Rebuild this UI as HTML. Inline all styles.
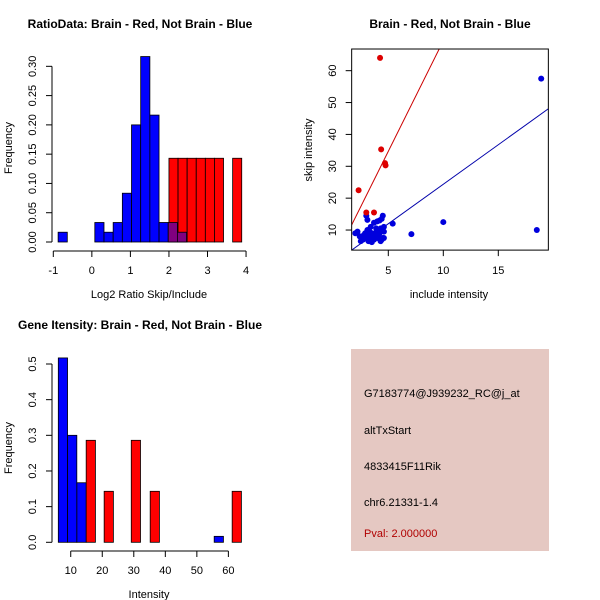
<!DOCTYPE html>
<html><head><meta charset="utf-8"><style>
body{margin:0;background:#fff}
svg{display:block;font-family:"Liberation Sans",sans-serif}
</style></head><body>
<svg id="c" width="600" height="600" viewBox="0 0 600 600">
<rect width="600" height="600" fill="#fff"/>
<g id="p1"></g>
<g id="p2"></g>
<g id="p3"></g>
<g>
<rect x="351" y="349" width="198" height="202" fill="#e5c8c2"/>
<text x="364" y="397" font-size="11" fill="#000">G7183774@J939232_RC@j_at</text>
<text x="364" y="434" font-size="11" fill="#000">altTxStart</text>
<text x="364" y="470" font-size="11" fill="#000">4833415F11Rik</text>
<text x="364" y="506" font-size="11" fill="#000">chr6.21331-1.4</text>
<text x="364" y="537" font-size="11" fill="#b00000">Pval: 2.000000</text>
</g>
</svg>
<script>
// ---- Plot 1 data ----
const ratioBlueStart = -0.875, ratioBlueWidth = 0.238;
const ratioBlueFreq = [0.0167,0,0,0,0.0333,0.0167,0.0333,0.0833,0.2,0.3167,0.2167,0.0333,0.0333,0.0167];
const ratioRedStart = 2.0, ratioRedWidth = 0.236;
const ratioRedFreq = [0.143,0.143,0.143,0.143,0.143,0.143,0,0.143];
const ratioXTicks = [-1,0,1,2,3,4];
const ratioYTicks = ["0.00","0.05","0.10","0.15","0.20","0.25","0.30"];
// ---- Plot 2 data ----
const redInc = [4.25,4.35,4.7,4.75,2.3,3.0,3.7];
const redSkip = [64,35.3,31,30.3,22.5,15.5,15.5];
const blueInc = [18.9,18.5,10,7.1,5.4,4.5,4.4,3.0,3.1,3.7,4.0,4.2,4.6,4.6,4.3,4.5,2.0,2.2,2.4,2.5,2.7,2.8,2.9,3.0,3.1,3.2,3.3,3.4,3.5,3.6,3.7,3.8,3.9,4.0,4.1,4.2,4.3,2.6,2.9,3.1,3.3,3.5,3.4,3.6,3.8,4.0,4.4,4.6,3.2,3.0,2.8,3.5,3.9,4.1];
const blueSkip = [57.5,10,12.5,8.7,12,14.5,13.5,14.5,13.2,12.3,12.7,13,11,9.5,10.5,7.5,9,9.5,8,6.5,7,8.5,9,8,7.5,9.5,8,6.5,9,8.5,7,9,8,7.5,10,9,6.5,8,7.5,10,9.5,8,11,7,9,8.5,7,7.5,6.5,9.2,7.8,6.2,10.5,8.2];
const incTicks = [5,10,15];
const skipTicks = [10,20,30,40,50,60];
const redFit = [0, 6.94];   // intercept, slope
const blueFit = [-0.44, 2.48];
// ---- Plot 3 data ----
const intBlueLeft = [6.06,9.0,11.95,55.5];
const intBlueFreq = [0.517,0.3,0.167,0.0167];
const intRedLeft = [14.9,20.6,29.2,35.2,61.2];
const intRedFreq = [0.286,0.143,0.286,0.143,0.143];
const intBinWidth = 2.93;
const intXTicks = [10,20,30,40,50,60];
const intYTicks = ["0.0","0.1","0.2","0.3","0.4","0.5"];

const NS="http://www.w3.org/2000/svg";
function mk(parent,tag,attrs,text){const e=document.createElementNS(NS,tag);for(const k in attrs)e.setAttribute(k,attrs[k]);if(text!==undefined)e.textContent=text;parent.appendChild(e);return e;}

// ===== Plot 1 =====
(function(){
const g=document.getElementById('p1');
const sx=v=>53.3+(v+1)*38.55, sy=v=>242-v*585.6;
ratioRedFreq.forEach((f,i)=>{ if(!f) return;
 const x0=ratioRedStart+i*ratioRedWidth;
 const r=mk(g,'rect',{x:sx(x0),y:sy(f),width:sx(x0+ratioRedWidth)-sx(x0),height:sy(0)-sy(f),fill:'#ff0000',stroke:'#000','stroke-width':0.8});
 
 
});
ratioBlueFreq.forEach((f,i)=>{ if(!f) return;
 const x0=ratioBlueStart+i*ratioBlueWidth;
 const over=x0>=ratioRedStart-0.05;
 const r=mk(g,'rect',{x:sx(x0),y:sy(f),width:sx(x0+ratioBlueWidth)-sx(x0),height:sy(0)-sy(f),fill:over?'#80007f':'#0000ff',stroke:'#000','stroke-width':0.8});
 
 
});
mk(g,'line',{x1:52,y1:sy(0),x2:52,y2:sy(0.3),stroke:'#000'});
ratioYTicks.forEach(t=>{const y=sy(+t);mk(g,'line',{x1:46,y1:y,x2:52,y2:y,stroke:'#000'});
 const tx=mk(g,'text',{x:36,y:y,'font-size':11,'text-anchor':'middle',transform:`rotate(-90 36 ${y})`},t);
 
 });
mk(g,'line',{x1:sx(-1),y1:251,x2:sx(4),y2:251,stroke:'#000'});
ratioXTicks.forEach(t=>{mk(g,'line',{x1:sx(t),y1:251,x2:sx(t),y2:257,stroke:'#000'});
 const tx=mk(g,'text',{x:sx(t),y:274,'font-size':11,'text-anchor':'middle'},t);
 
 });
let t=mk(g,'text',{x:140,y:28,'font-size':12,'font-weight':'bold','text-anchor':'middle'},'RatioData: Brain - Red, Not Brain - Blue');

t=mk(g,'text',{x:149,y:298,'font-size':11,'text-anchor':'middle'},'Log2 Ratio Skip/Include');

t=mk(g,'text',{x:12,y:148,'font-size':11,'text-anchor':'middle',transform:'rotate(-90 12 148)'},'Frequency');

})();

// ===== Plot 2 =====
(function(){
const g=document.getElementById('p2');
const sx=v=>333.3+v*11.0, sy=v=>261.9-v*3.187;
const xmin=1.67,xmax=19.55,ymin=3.7,ymax=66.8;
mk(g,'clipPath',{id:'clip2'});
mk(document.getElementById('clip2'),'rect',{x:sx(xmin),y:sy(ymax),width:sx(xmax)-sx(xmin),height:sy(ymin)-sy(ymax)});
const cg=mk(g,'g',{'clip-path':'url(#clip2)'});
[[redFit,'#cc0000','red-fit-line'],[blueFit,'#0000aa','blue-fit-line']].forEach(([f,c,n])=>{
 const l=mk(cg,'line',{x1:sx(xmin),y1:sy(f[0]+f[1]*xmin),x2:sx(xmax),y2:sy(f[0]+f[1]*xmax),stroke:c,'stroke-width':1});
 });
blueInc.forEach((v,i)=>{const c=mk(cg,'circle',{cx:sx(v),cy:sy(blueSkip[i]),r:3,fill:'#0000dd'});
 });
redInc.forEach((v,i)=>{const c=mk(cg,'circle',{cx:sx(v),cy:sy(redSkip[i]),r:3,fill:'#dd0000'});
 });
mk(g,'rect',{x:sx(xmin),y:sy(ymax),width:sx(xmax)-sx(xmin),height:sy(ymin)-sy(ymax),fill:'none',stroke:'#000'});
incTicks.forEach(t=>{mk(g,'line',{x1:sx(t),y1:sy(ymin),x2:sx(t),y2:sy(ymin)+6,stroke:'#000'});
 const tx=mk(g,'text',{x:sx(t),y:274,'font-size':11,'text-anchor':'middle'},t);
 });
skipTicks.forEach(t=>{const y=sy(t);mk(g,'line',{x1:sx(xmin)-6,y1:y,x2:sx(xmin),y2:y,stroke:'#000'});
 const tx=mk(g,'text',{x:336,y:y,'font-size':11,'text-anchor':'middle',transform:`rotate(-90 336 ${y})`},t);
 });
let t=mk(g,'text',{x:450,y:28,'font-size':12,'font-weight':'bold','text-anchor':'middle'},'Brain - Red, Not Brain - Blue');

t=mk(g,'text',{x:449,y:298,'font-size':11,'text-anchor':'middle'},'include intensity');

t=mk(g,'text',{x:312,y:150,'font-size':11,'text-anchor':'middle',transform:'rotate(-90 312 150)'},'skip intensity');

})();

// ===== Plot 3 =====
(function(){
const g=document.getElementById('p3');
const sx=v=>39.2+v*3.153, sy=v=>542.3-v*356.6;
intRedLeft.forEach((x0,i)=>{const f=intRedFreq[i];
 const r=mk(g,'rect',{x:sx(x0),y:sy(f),width:intBinWidth*3.153,height:sy(0)-sy(f),fill:'#ff0000',stroke:'#000','stroke-width':0.8});
 });
intBlueLeft.forEach((x0,i)=>{const f=intBlueFreq[i];
 const r=mk(g,'rect',{x:sx(x0),y:sy(f),width:intBinWidth*3.153,height:sy(0)-sy(f),fill:'#0000ff',stroke:'#000','stroke-width':0.8});
 });
mk(g,'line',{x1:52,y1:sy(0),x2:52,y2:sy(0.5),stroke:'#000'});
intYTicks.forEach(t=>{const y=sy(+t);mk(g,'line',{x1:46,y1:y,x2:52,y2:y,stroke:'#000'});
 const tx=mk(g,'text',{x:36,y:y,'font-size':11,'text-anchor':'middle',transform:`rotate(-90 36 ${y})`},t);
 });
mk(g,'line',{x1:sx(10),y1:551,x2:sx(60),y2:551,stroke:'#000'});
intXTicks.forEach(t=>{mk(g,'line',{x1:sx(t),y1:551,x2:sx(t),y2:557,stroke:'#000'});
 const tx=mk(g,'text',{x:sx(t),y:574,'font-size':11,'text-anchor':'middle'},t);
 });
let t=mk(g,'text',{x:140,y:329,'font-size':12,'font-weight':'bold','text-anchor':'middle'},'Gene Itensity: Brain - Red, Not Brain - Blue');

t=mk(g,'text',{x:149,y:598,'font-size':11,'text-anchor':'middle'},'Intensity');

t=mk(g,'text',{x:12,y:448,'font-size':11,'text-anchor':'middle',transform:'rotate(-90 12 448)'},'Frequency');

})();
</script>
</body></html>
